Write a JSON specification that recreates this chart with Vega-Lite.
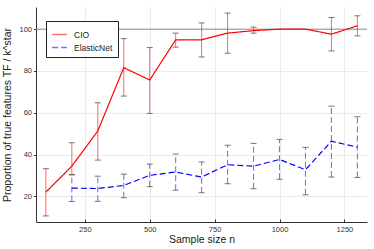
{
  "$schema": "https://vega.github.io/schema/vega-lite/v6.json",
  "width": 331,
  "height": 215,
  "autosize": {"type": "none"},
  "padding": {"left": 36, "top": 7, "right": 7, "bottom": 27},
  "background": "white",
  "config": {
    "font": "Liberation Sans",
    "view": {"stroke": null},
    "axis": {
      "labelFont": "Liberation Sans",
      "titleFont": "Liberation Sans",
      "labelFontSize": 7.5,
      "labelColor": "#333333",
      "titleFontSize": 10.5,
      "titleFontWeight": "normal",
      "titleColor": "#222222",
      "gridColor": "#e6e6e6",
      "gridWidth": 0.8,
      "domainColor": "#333333",
      "tickColor": "#333333",
      "tickSize": 3
    },
    "legend": {
      "orient": "none",
      "legendX": 10,
      "legendY": 14,
      "strokeColor": "#222222",
      "fillColor": "white",
      "padding": 5,
      "symbolType": "stroke",
      "symbolSize": 220,
      "symbolStrokeWidth": 1.3,
      "labelFont": "Liberation Sans",
      "labelFontSize": 8.5,
      "labelColor": "#222222",
      "labelOffset": 6,
      "rowPadding": 0,
      "cornerRadius": 0
    }
  },
  "datasets": {
    "results": [
      {"n": 100, "model": "CIO", "mean": 22.1, "lo": 10.7, "hi": 33.3},
      {"n": 200, "model": "CIO", "mean": 34.5, "lo": 30.4, "hi": 45.7},
      {"n": 300, "model": "CIO", "mean": 51.3, "lo": 37.4, "hi": 64.8},
      {"n": 400, "model": "CIO", "mean": 81.6, "lo": 68.0, "hi": 95.5},
      {"n": 500, "model": "CIO", "mean": 75.7, "lo": 59.7, "hi": 91.2},
      {"n": 600, "model": "CIO", "mean": 94.9, "lo": 91.4, "hi": 98.1},
      {"n": 700, "model": "CIO", "mean": 94.9, "lo": 86.7, "hi": 103.0},
      {"n": 800, "model": "CIO", "mean": 98.1, "lo": 88.5, "hi": 107.7},
      {"n": 900, "model": "CIO", "mean": 99.3, "lo": 98.1, "hi": 101.0},
      {"n": 1000, "model": "CIO", "mean": 100.0, "lo": null, "hi": null},
      {"n": 1100, "model": "CIO", "mean": 100.0, "lo": null, "hi": null},
      {"n": 1200, "model": "CIO", "mean": 97.6, "lo": 89.6, "hi": 105.6},
      {"n": 1300, "model": "CIO", "mean": 101.6, "lo": 96.8, "hi": 106.4},
      {"n": 200, "model": "ElasticNet", "mean": 24.0, "lo": 17.6, "hi": 30.4},
      {"n": 300, "model": "ElasticNet", "mean": 23.8, "lo": 17.7, "hi": 29.7},
      {"n": 400, "model": "ElasticNet", "mean": 25.3, "lo": 19.4, "hi": 30.7},
      {"n": 500, "model": "ElasticNet", "mean": 30.1, "lo": 24.7, "hi": 35.5},
      {"n": 600, "model": "ElasticNet", "mean": 31.7, "lo": 23.0, "hi": 40.3},
      {"n": 700, "model": "ElasticNet", "mean": 29.3, "lo": 21.8, "hi": 36.5},
      {"n": 800, "model": "ElasticNet", "mean": 35.2, "lo": 26.1, "hi": 44.5},
      {"n": 900, "model": "ElasticNet", "mean": 34.5, "lo": 23.7, "hi": 45.4},
      {"n": 1000, "model": "ElasticNet", "mean": 37.7, "lo": 28.2, "hi": 47.3},
      {"n": 1100, "model": "ElasticNet", "mean": 32.8, "lo": 20.8, "hi": 43.5},
      {"n": 1200, "model": "ElasticNet", "mean": 46.4, "lo": 29.3, "hi": 63.2},
      {"n": 1300, "model": "ElasticNet", "mean": 43.6, "lo": 29.1, "hi": 58.1}
    ],
    "ref": [{"y": 100}]
  },
  "layer": [
    {
      "data": {"name": "ref"},
      "mark": {"type": "rule", "color": "#8c8c8c", "strokeWidth": 1},
      "encoding": {"y": {"field": "y", "type": "quantitative"}}
    },
    {
      "data": {"name": "results"},
      "mark": {"type": "rule", "strokeWidth": 1.1, "opacity": 0.55},
      "encoding": {
        "x": {"field": "n", "type": "quantitative"},
        "y": {"field": "lo", "type": "quantitative"},
        "y2": {"field": "hi"},
        "color": {"field": "model", "type": "nominal"},
        "strokeDash": {"field": "model", "type": "nominal"}
      }
    },
    {
      "data": {"name": "results"},
      "mark": {"type": "tick", "color": "#555555", "orient": "horizontal", "size": 6, "thickness": 1, "opacity": 0.8},
      "encoding": {
        "x": {"field": "n", "type": "quantitative"},
        "y": {"field": "lo", "type": "quantitative"}
      }
    },
    {
      "data": {"name": "results"},
      "mark": {"type": "tick", "color": "#555555", "orient": "horizontal", "size": 6, "thickness": 1, "opacity": 0.8},
      "encoding": {
        "x": {"field": "n", "type": "quantitative"},
        "y": {"field": "hi", "type": "quantitative"}
      }
    },
    {
      "data": {"name": "results"},
      "mark": {"type": "line", "strokeWidth": 1.2},
      "encoding": {
        "x": {
          "field": "n",
          "type": "quantitative",
          "scale": {"domain": [62, 1337], "nice": false, "zero": false},
          "axis": {"values": [250, 500, 750, 1000, 1250], "format": "d", "title": "Sample size n", "tickSize": -3, "labelPadding": 6, "titlePadding": 2}
        },
        "y": {
          "field": "mean",
          "type": "quantitative",
          "scale": {"domain": [7.8, 110.6], "nice": false, "zero": false},
          "axis": {"values": [20, 40, 60, 80, 100], "title": "Proportion of true features TF / k^star", "tickSize": 2.5, "labelPadding": 2, "titlePadding": 6}
        },
        "color": {
          "field": "model",
          "type": "nominal",
          "scale": {"domain": ["CIO", "ElasticNet"], "range": ["#ff0000", "#0000ff"]},
          "legend": {"title": null, "symbolType": "stroke"}
        },
        "strokeDash": {
          "field": "model",
          "type": "nominal",
          "scale": {"domain": ["CIO", "ElasticNet"], "range": [[1, 0], [6, 3]]},
          "legend": {"title": null, "symbolType": "stroke"}
        }
      }
    }
  ]
}
